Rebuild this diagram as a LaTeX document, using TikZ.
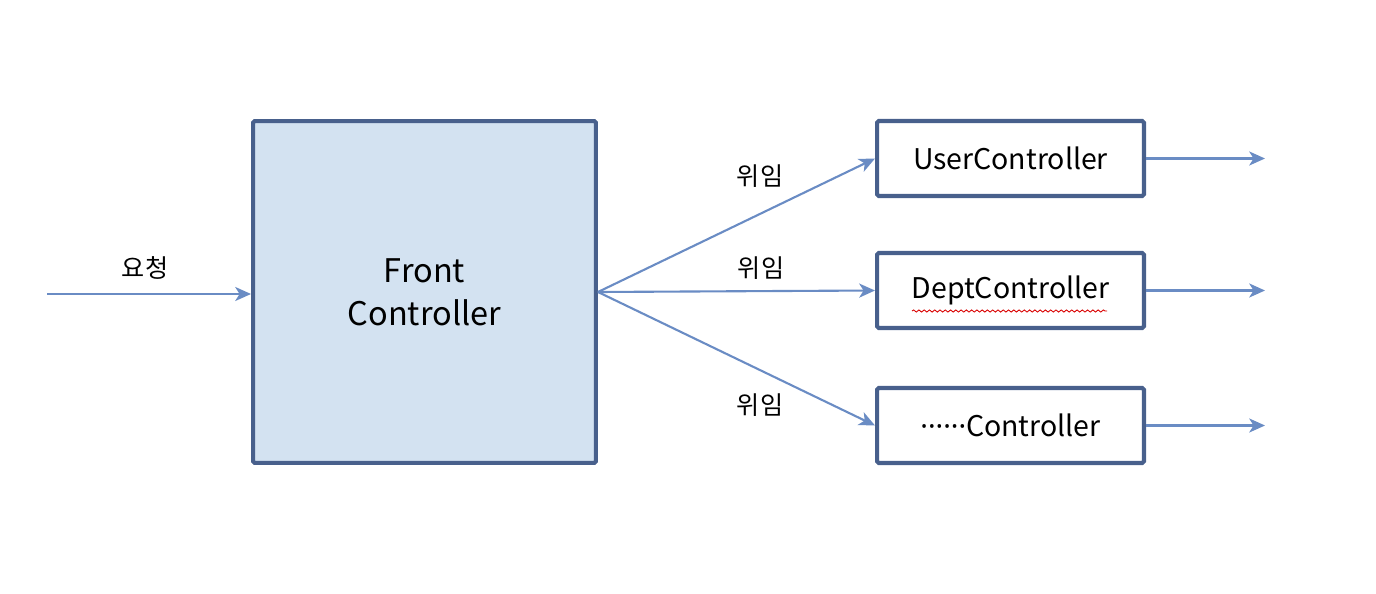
\documentclass[tikz,border=0pt]{standalone}
\usepackage{fontspec}
\setmainfont{Noto Sans CJK KR}
\newfontfamily\latinDots{Noto Sans}
\usetikzlibrary{positioning}
\usetikzlibrary{arrows.meta}
\usetikzlibrary{decorations.pathmorphing}
\definecolor{borderColor}{RGB}{72,96,140}
\definecolor{fillColor}{RGB}{211,226,241}
\definecolor{arrowColor}{RGB}{106,140,196}

\begin{document}
\begin{tikzpicture}[x=0.02cm,y=-0.02cm]

            \tikzstyle{frontBox} = [draw=borderColor, fill=fillColor, line width=2.3pt, rounded corners=1pt,
              minimum width=6.86cm, minimum height=6.84cm, inner sep=0pt, align=center,
              font=\fontsize{18.5}{24.5}\selectfont];
            \tikzstyle{ctrlBox} = [draw=borderColor, line width=2.3pt, rounded corners=1pt,
              minimum width=5.34cm, minimum height=1.5cm, inner sep=0pt,
              font=\fontsize{16.2}{19}\selectfont];
            \tikzstyle{flow} = [draw=arrowColor, line width=1.2pt, -{Stealth[length=9pt,width=8pt,inset=2.5pt]}];
            \tikzstyle{edgeLabel} = [font=\fontsize{14.3}{17}\selectfont, inner sep=0pt];

            \useasboundingbox (0,0) rectangle (1376,594);

            \node[frontBox] (front) at (424.5,292) {Front\\Controller};
            \node[ctrlBox] (user) at (1010.5,158.5) {UserController};
            \node[ctrlBox] (dept) at (1010.5,290.5) {DeptController};
            \node[ctrlBox] (other) at (1010.5,425.5) {{\latinDots ······}Controller};

            \coordinate (in) at (47,294);
            \coordinate (userOut) at (1265,158.5);
            \coordinate (deptOut) at (1265,290.5);
            \coordinate (otherOut) at (1265,425.5);

            \node[edgeLabel] (req) at (145,268) {요청};
            \node[edgeLabel] (delUser) at (760,176) {위임};
            \node[edgeLabel] (delDept) at (761,268) {위임};
            \node[edgeLabel] (delOther) at (760,405) {위임};

            \draw[flow] (in) -- (front.west |- in);
            \draw[flow] (front.east) -- (user.west);
            \draw[flow] (front.east) -- (dept.west);
            \draw[flow] (front.east) -- (other.west);
            \draw[flow] (user.east) -- (userOut);
            \draw[flow] (dept.east) -- (deptOut);
            \draw[flow] (other.east) -- (otherOut);

            % spell-check underline
            \draw[red!85!black, line width=0.5pt, decorate,
              decoration={snake, segment length=3pt, amplitude=0.6pt}] (912,311) -- (1107,311);
          \end{tikzpicture}
\end{document}
